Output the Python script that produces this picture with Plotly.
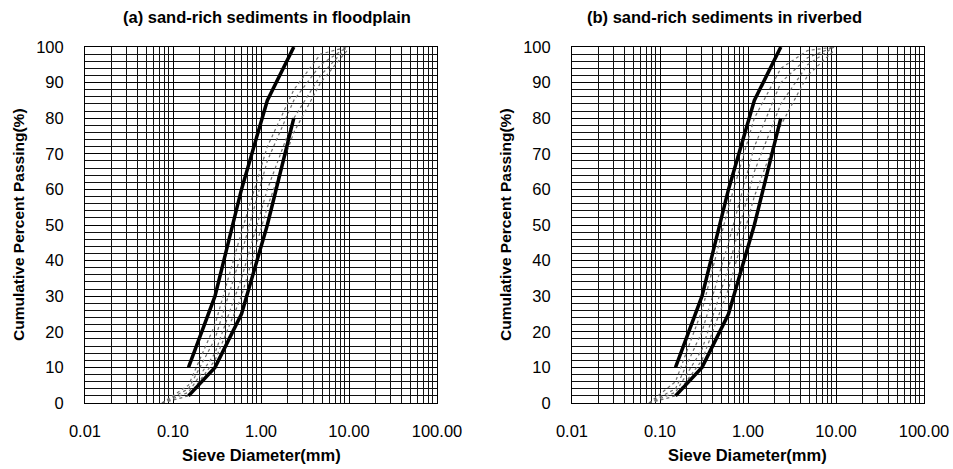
import plotly.graph_objects as go

# Sieve sizes (mm)
sieve_env = [0.15, 0.3, 0.6, 1.18, 2.36]
sieve_smp = [0.075, 0.15, 0.3, 0.6, 1.18, 2.36, 4.75, 9.5]

# (a) floodplain
a_upper = [10, 30, 60, 85, 100]
a_lower = [2, 10, 25, 50, 80]
a_samples = [
    [0, 4, 18, 42, 68, 85, 95, 100],
    [0, 3, 14, 35, 60, 80, 92, 100],
    [0, 5, 22, 48, 72, 88, 98, 100],
    [0, 2, 12, 30, 55, 76, 90, 99],
]

# (b) riverbed
b_upper = [10, 30, 60, 85, 100]
b_lower = [2, 10, 25, 50, 80]
b_samples = [
    [0, 4, 20, 45, 72, 90, 97, 100],
    [0, 3, 15, 38, 65, 84, 95, 100],
    [0, 6, 26, 55, 80, 94, 99, 100],
    [0, 2, 12, 32, 58, 78, 92, 99],
]

xtick_vals = [0.01, 0.1, 1, 10, 100]
xtick_text = ["0.01", "0.10", "1.00", "10.00", "100.00"]
titles = ["(a) sand-rich sediments in floodplain", "(b) sand-rich sediments in riverbed"]
x_title = "Sieve Diameter(mm)"
y_title = "Cumulative Percent Passing(%)"

W, H = 953, 469
fig = go.Figure()

panels = [
    (a_upper, a_lower, a_samples, "x", "y"),
    (b_upper, b_lower, b_samples, "x2", "y2"),
]
for up, lo, smp, xa, ya in panels:
    for s in smp:
        fig.add_trace(go.Scatter(x=sieve_smp, y=s, mode="lines", xaxis=xa, yaxis=ya,
                                 line=dict(color="#6e6e6e", width=1.2, dash="dot"),
                                 showlegend=False, hoverinfo="skip"))
    for s in (up, lo):
        fig.add_trace(go.Scatter(x=sieve_env, y=s, mode="lines", xaxis=xa, yaxis=ya,
                                 line=dict(color="black", width=3.5),
                                 showlegend=False))

FAM = "Liberation Sans, Arial, sans-serif"
font_tick = dict(family=FAM, size=16.5, color="black")
font_title = dict(family=FAM, size=16.5, color="black")
font_ytitle = dict(family=FAM, size=15.5, color="black")

def xaxis(domain, anchor):
    return dict(domain=domain, anchor=anchor, type="log", range=[-2, 2],
                tickvals=xtick_vals, ticktext=xtick_text, tickfont=font_tick,
                showgrid=True, gridcolor="#000000", gridwidth=1.4,
                minor=dict(dtick="D1", showgrid=True, gridcolor="#111111", gridwidth=1, ticks=""),
                showline=True, linecolor="black", linewidth=1, mirror=True,
                ticks="outside", ticklen=13, tickcolor="rgba(0,0,0,0)",
                zeroline=False, automargin=False)

def yaxis(domain, anchor):
    return dict(domain=domain, anchor=anchor, range=[0, 100], dtick=10,
                tickfont=font_tick, showgrid=True, gridcolor="#000000", gridwidth=1.2,
                minor=dict(dtick=2, showgrid=True, gridcolor="#111111", gridwidth=1, ticks=""),
                showline=True, linecolor="black", linewidth=1, mirror=True,
                ticks="outside", ticklen=17, tickcolor="rgba(0,0,0,0)",
                zeroline=False, automargin=False)

ydom = [1 - 403 / H, 1 - 47 / H]
fig.update_layout(
    width=W, height=H,
    margin=dict(l=0, r=0, t=0, b=0),
    paper_bgcolor="white", plot_bgcolor="white",
    xaxis=xaxis([85 / W, 437 / W], "y"),
    yaxis=yaxis(ydom, "x"),
    xaxis2=xaxis([572 / W, 924 / W], "y2"),
    yaxis2=yaxis(ydom, "x2"),
)

annots = [
    dict(text="<b>%s</b>" % titles[0], x=267 / W, y=1 - 17 / H),
    dict(text="<b>%s</b>" % titles[1], x=724 / W, y=1 - 17 / H),
    dict(text="<b>%s</b>" % x_title, x=261 / W, y=1 - 455 / H),
    dict(text="<b>%s</b>" % x_title, x=747 / W, y=1 - 455 / H),
]
for a in annots:
    fig.add_annotation(xref="paper", yref="paper", showarrow=False,
                       xanchor="center", yanchor="middle", font=font_title, **a)
for xc in (18, 505):
    fig.add_annotation(xref="paper", yref="paper", showarrow=False, textangle=-90,
                       x=xc / W, y=1 - 225 / H, xanchor="center", yanchor="middle",
                       text="<b>%s</b>" % y_title, font=font_ytitle)

fig.write_html("out.html",
               config={"displayModeBar": False},
               post_script="document.body.style.margin='0';document.body.style.padding='0';"
                           "document.body.style.overflow='hidden';")
